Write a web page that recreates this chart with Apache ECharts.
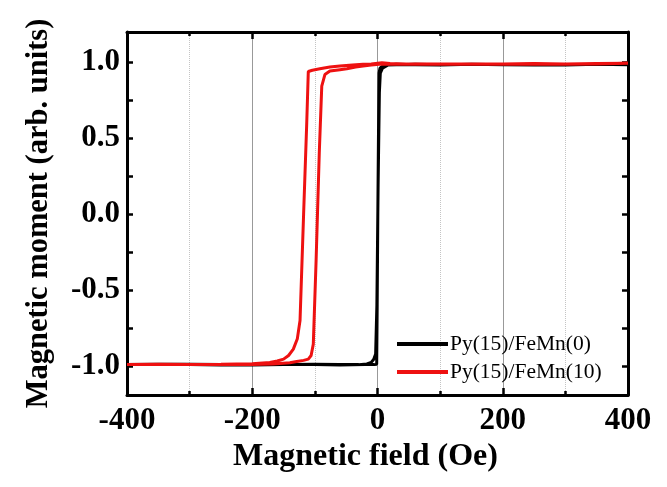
<!DOCTYPE html>
<html>
<head>
<meta charset="utf-8">
<script src="https://cdn.jsdelivr.net/npm/echarts@6/dist/echarts.min.js"></script>
<style>
html,body{margin:0;padding:0;background:#fff;}
#chart{width:667px;height:487px;}
</style>
</head>
<body>
<div id="chart"></div>
<script>
// ---- data ----
const seriesNames = ['Py(15)/FeMn(0)', 'Py(15)/FeMn(10)'];

// Py(15)/FeMn(0): descending branch (+400 -> -400)
const fieldBlackDown  = [400, 350, 300, 250, 200, 150, 100, 60, 30, 15, 8, 4, 2.5, 1.5, 0.5, -0.5, -1.3, -5, -20, -60, -100, -150, -200, -250, -300, -350, -400];
const momentBlackDown = [0.985, 0.987, 0.983, 0.987, 0.985, 0.988, 0.985, 0.987, 0.985, 0.983, 0.976, 0.962, 0.93, 0.5, 0.0, -0.6, -0.988, -0.99, -0.99, -0.992, -0.99, -0.99, -0.992, -0.99, -0.988, -0.99, -0.99];
// Py(15)/FeMn(0): ascending branch (-400 -> +400)
const fieldBlackUp  = [-400, -350, -300, -250, -200, -150, -100, -60, -30, -17, -10, -6, -3, -1, 1, 3, 4.5, 8, 17, 30, 60, 100, 150, 200, 250, 300, 350, 400];
const momentBlackUp = [-0.99, -0.988, -0.99, -0.992, -0.99, -0.99, -0.988, -0.99, -0.99, -0.986, -0.975, -0.955, -0.92, -0.6, 0.2, 0.8, 0.93, 0.962, 0.983, 0.987, 0.985, 0.983, 0.987, 0.985, 0.983, 0.985, 0.987, 0.985];

// Py(15)/FeMn(10): descending branch (+400 -> -400)
const fieldRedDown  = [400, 350, 300, 250, 200, 150, 100, 50, 20, 7, -10, -23, -40, -60, -76, -92, -104, -110.5, -113, -118, -123.7, -128, -134.4, -142, -150, -160, -172, -200, -250, -300, -350, -400];
const momentRedDown = [0.995, 0.99, 0.988, 0.99, 0.988, 0.99, 0.99, 0.988, 0.992, 0.998, 0.99, 0.987, 0.982, 0.976, 0.97, 0.958, 0.948, 0.94, 0.6, 0.0, -0.7, -0.82, -0.888, -0.93, -0.954, -0.966, -0.976, -0.985, -0.988, -0.99, -0.988, -0.99];
// Py(15)/FeMn(10): ascending branch (-400 -> +400)
const fieldRedUp  = [-400, -350, -300, -250, -200, -167, -140, -129, -118, -110.5, -106, -102.5, -98, -93, -89, -84, -76, -60, -49, -35, -23, -10, 7, 30, 60, 100, 150, 200, 250, 300, 350, 400];
const momentRedUp = [-0.99, -0.988, -0.99, -0.988, -0.99, -0.986, -0.978, -0.97, -0.962, -0.954, -0.93, -0.855, -0.3, 0.4, 0.844, 0.92, 0.943, 0.952, 0.958, 0.97, 0.976, 0.982, 0.99, 0.988, 0.99, 0.988, 0.99, 0.99, 0.992, 0.99, 0.993, 0.995];

// axis ticks / labels
const yLabelValues = [-1, -0.5, 0, 0.5, 1];
const yTickValues  = [-1, -0.75, -0.5, -0.25, 0, 0.25, 0.5, 0.75, 1];

function zip(xs, ys) { return xs.map((x, i) => [x, ys[i]]); }
const blackData = zip(fieldBlackDown, momentBlackDown).concat(zip(fieldBlackUp, momentBlackUp));
const redData   = zip(fieldRedDown, momentRedDown).concat(zip(fieldRedUp, momentRedUp));

const FONT = "'Liberation Serif', 'Times New Roman', serif";
const axisLineStyle = { color: '#000', width: 3 };

const chart = echarts.init(document.getElementById('chart'), null, { renderer: 'canvas' });
chart.setOption({
  animation: false,
  backgroundColor: '#fff',
  grid: { left: 127, right: 39, top: 32, bottom: 92, containLabel: false },
  legend: {
    data: seriesNames,
    orient: 'vertical',
    left: 392, top: 327,
    icon: 'rect', itemWidth: 51, itemHeight: 4, itemGap: 4,
    textStyle: { fontFamily: FONT, fontSize: 21.5, color: '#000', lineHeight: 24, padding: [0, 0, 0, -3] }
  },
  xAxis: [{
    type: 'value', position: 'bottom', min: -400, max: 400, interval: 200,
    name: 'Magnetic field (Oe)', nameLocation: 'middle', nameGap: 42,
    nameTextStyle: { fontFamily: FONT, fontSize: 32, fontWeight: 'bold', color: '#000', padding: [0, 24, 0, 0] },
    axisLine: { show: true, onZero: false, lineStyle: axisLineStyle },
    axisTick: { show: true, inside: true, length: 7, lineStyle: { color: '#000', width: 2.5 } },
    minorTick: { show: true, splitNumber: 2, length: 4, lineStyle: { color: '#000', width: 2.5 } },
    splitLine: { show: true, lineStyle: { color: '#999', width: 1 } },
    minorSplitLine: { show: true, lineStyle: { color: '#c4c4c4', width: 1, type: 'dotted' } },
    axisLabel: { fontFamily: FONT, fontSize: 31, fontWeight: 'bold', color: '#000', margin: 10,
      formatter: v => String(v) }
  }, {
    type: 'value', position: 'top', min: -400, max: 400, interval: 200,
    axisLine: { show: true, onZero: false, lineStyle: axisLineStyle },
    axisTick: { show: true, inside: true, length: 7, lineStyle: { color: '#000', width: 2.5 } },
    minorTick: { show: true, splitNumber: 2, length: 4, lineStyle: { color: '#000', width: 2.5 } },
    splitLine: { show: false }, axisLabel: { show: false }
  }],
  yAxis: [{
    type: 'value', position: 'left', min: -1.19, max: 1.2,
    name: 'Magnetic moment (arb. units)', nameLocation: 'middle', nameGap: 72,
    nameTextStyle: { fontFamily: FONT, fontSize: 30.5, fontWeight: 'bold', color: '#000' },
    axisLine: { show: true, onZero: false, lineStyle: axisLineStyle },
    axisTick: { show: true, inside: true, length: 6, customValues: yTickValues, lineStyle: { color: '#000', width: 2.5 } },
    splitLine: { show: false },
    axisLabel: { fontFamily: FONT, fontSize: 31, fontWeight: 'bold', color: '#000', margin: 7,
      customValues: yLabelValues, formatter: v => v.toFixed(1) }
  }, {
    type: 'value', position: 'right', min: -1.19, max: 1.2,
    axisLine: { show: true, onZero: false, lineStyle: axisLineStyle },
    axisTick: { show: true, inside: true, length: 6, customValues: yTickValues, lineStyle: { color: '#000', width: 2.5 } },
    splitLine: { show: false }, axisLabel: { show: false }
  }],
  series: [{
    name: seriesNames[0], type: 'line', xAxisIndex: 0, yAxisIndex: 0,
    data: blackData, showSymbol: false, symbol: 'none',
    lineStyle: { color: '#000', width: 3 }, itemStyle: { color: '#000' }
  }, {
    name: seriesNames[1], type: 'line', xAxisIndex: 0, yAxisIndex: 0,
    data: redData, showSymbol: false, symbol: 'none',
    lineStyle: { color: '#ee1111', width: 3 }, itemStyle: { color: '#ee1111' }
  }]
});
</script>
</body>
</html>
